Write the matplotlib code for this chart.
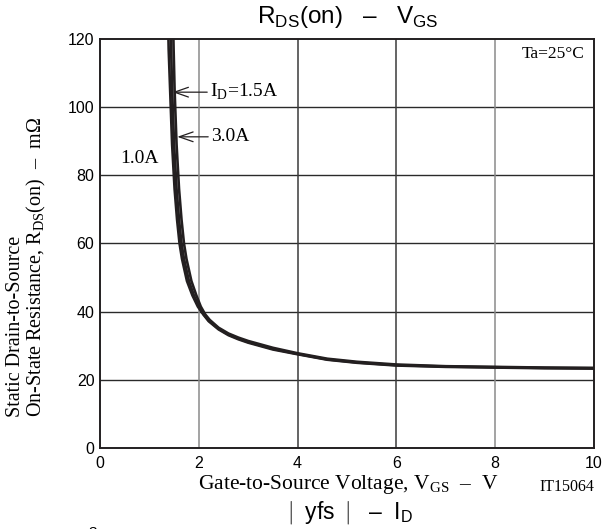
import matplotlib
matplotlib.use("Agg")
import matplotlib.pyplot as plt

plt.rcParams["mathtext.fontset"] = "custom"
plt.rcParams["mathtext.rm"] = "Liberation Serif"
plt.rcParams["mathtext.sf"] = "Liberation Sans"

SANS = "Liberation Sans"
SERIF = "Liberation Serif"
INK = "#231f20"
DASH = "\u2013"

# R_DS(on) curves, one per drain current
vgs_1a0 = [1.37, 1.39, 1.42, 1.46, 1.51, 1.56, 1.61, 1.66, 1.76, 1.87, 1.98, 2.09, 2.20,
           2.40, 2.60, 2.80, 3.00, 3.50, 4.00, 4.60, 5.20, 6.00, 7.00, 8.00, 9.00, 10.0]
rds_1a0 = [132, 117, 105, 89, 76, 67, 60, 55.5, 49, 44.8, 41.5, 39.2, 37.2,
           34.8, 33.1, 31.9, 30.9, 28.9, 27.5, 25.9, 25.0, 24.2, 23.8, 23.6, 23.4, 23.3]

vgs_1a5 = [1.42, 1.44, 1.46, 1.50, 1.55, 1.60, 1.65, 1.70, 1.80, 1.90, 2.00, 2.10, 2.20,
           2.40, 2.60, 2.80, 3.00, 3.50, 4.00, 4.60, 5.20, 6.00, 7.00, 8.00, 9.00, 10.0]
rds_1a5 = [132, 117, 105, 89, 76, 67, 60, 55.5, 49, 44.8, 41.5, 39.2, 37.4,
           35.0, 33.3, 32.1, 31.1, 29.1, 27.6, 26.0, 25.1, 24.3, 23.9, 23.7, 23.5, 23.4]

vgs_3a0 = [1.47, 1.49, 1.51, 1.55, 1.60, 1.65, 1.70, 1.75, 1.85, 1.95, 2.04, 2.13, 2.22,
           2.40, 2.60, 2.80, 3.00, 3.50, 4.00, 4.60, 5.20, 6.00, 7.00, 8.00, 9.00, 10.0]
rds_3a0 = [132, 117, 105, 89, 76, 67, 60, 55.5, 49, 44.8, 41.5, 39.2, 37.6,
           35.3, 33.6, 32.4, 31.4, 29.4, 27.8, 26.2, 25.3, 24.5, 24.0, 23.8, 23.6, 23.5]

x_ticks = [0, 2, 4, 6, 8, 10]
y_ticks = [0, 20, 40, 60, 80, 100, 120]
x_grid_colors = ["#8a8a8a", "#3a3a3a", "#3a3a3a", "#8a8a8a"]

fig = plt.figure(figsize=(6.04, 5.29), dpi=100)
ax = fig.add_axes([100 / 604, 1 - 448 / 529, 494 / 604, 409 / 529])

for vx, ry in [(vgs_1a0, rds_1a0), (vgs_1a5, rds_1a5), (vgs_3a0, rds_3a0)]:
    ax.plot(vx, ry, color=INK, lw=1.9, solid_capstyle="round", zorder=3)

ax.set_xlim(0, 10)
ax.set_ylim(0, 120)
ax.set_xticks(x_ticks)
ax.set_yticks(y_ticks)
ax.tick_params(length=0, labelsize=11.5)
ax.tick_params(axis="x", pad=6)
ax.tick_params(axis="y", pad=4)
for lab in ax.get_xticklabels() + ax.get_yticklabels():
    lab.set_fontfamily(SANS)

for yv in y_ticks[1:-1]:
    ax.axhline(yv, color="#2a2a2a", lw=1.0, zorder=1)
for xv, c in zip(x_ticks[1:-1], x_grid_colors):
    ax.axvline(xv, color=c, lw=1.1, zorder=1)
for s in ax.spines.values():
    s.set_linewidth(1.4)
    s.set_color(INK)

# annotations
arrow = dict(arrowstyle="->,head_length=1.0,head_width=0.35", lw=0.9, color=INK,
             shrinkA=0, shrinkB=0)
ax.annotate("", xy=(1.47, 104.4), xytext=(2.17, 104.4), arrowprops=arrow, zorder=4)
ax.text(2.22, 104.4, r"I$_{\mathrm{D}}$=1.5A", family=SERIF, fontsize=14,
        va="center", ha="left")
ax.annotate("", xy=(1.565, 91.3), xytext=(2.19, 91.3), arrowprops=arrow, zorder=4)
ax.text(2.24, 91.3, "3.0A", family=SERIF, fontsize=14, va="center", ha="left")
ax.text(0.4, 85, "1.0A", family=SERIF, fontsize=14, va="center", ha="left")
ax.text(9.8, 115.5, "Ta=25\u00b0C", family=SERIF, fontsize=12.5, va="center", ha="right")

fig.text(348 / 604, 1 - 17 / 529,
         "R$_{\\mathsf{DS}}$(on)   " + DASH + "   V$_{\\mathsf{GS}}$",
         family=SANS, fontsize=17.5, ha="center", va="center")
fig.text(348 / 604, 1 - 485 / 529,
         "Gate-to-Source Voltage, V$_{\\mathrm{GS}}$  " + DASH + "  V",
         family=SERIF, fontsize=15.5, ha="center", va="center")
fig.text(594 / 604, 1 - 487 / 529, "IT15064", family=SERIF, fontsize=11.5,
         ha="right", va="center")
fig.text(27 / 604, 1 - 417 / 529,
         "Static Drain-to-Source\n"
         "On-State Resistance, R$_{\\mathrm{DS}}$(on)  " + DASH + "  m\u03a9",
         family=SERIF, fontsize=14.5, rotation=90, ha="center", va="bottom",
         multialignment="left", linespacing=1.05)
fig.text(348 / 604, 1 - 513 / 529,
         "$\\mid$ yfs $\\mid$  " + DASH + "  I$_{\\mathsf{D}}$",
         family=SANS, fontsize=16.5, ha="center", va="center")
fig.text(93 / 604, -0.008, "3", family=SANS, fontsize=11, ha="center", va="center")

fig.savefig("out.png", dpi=100)
